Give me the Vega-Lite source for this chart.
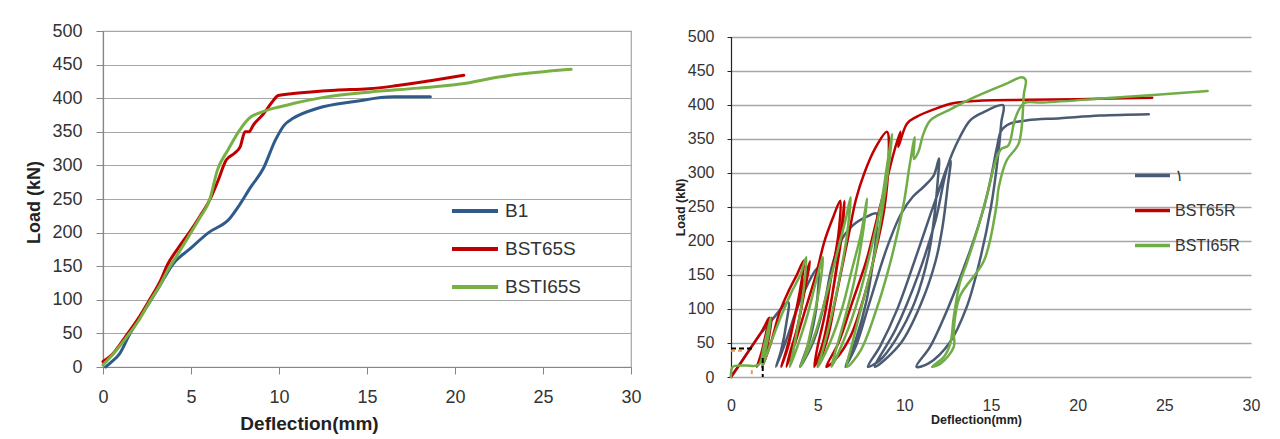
{
"$schema": "https://vega.github.io/schema/vega-lite/v6.json",
"autosize": {"type": "none"},
"padding": {"left": 103, "top": 31, "right": 1177, "bottom": 408},
"background": "white",
"bounds": "flush",
"spacing": 100,
"config": {"view": {"stroke": null}, "font": "Liberation Sans"},
"resolve": {"scale": {"color": "independent"}, "legend": {"color": "independent"}},
"datasets": {
"left": [
{"s":"B1","i":1,"x":0.15,"y":0},{"s":"B1","i":2,"x":0.5,"y":8},{"s":"B1","i":3,"x":0.95,"y":20},{"s":"B1","i":4,"x":1.5,"y":48},{"s":"B1","i":5,"x":2.0,"y":70},{"s":"B1","i":6,"x":2.5,"y":90},{"s":"B1","i":7,"x":3.2,"y":120},{"s":"B1","i":8,"x":4.0,"y":154},{"s":"B1","i":9,"x":4.9,"y":175},{"s":"B1","i":10,"x":6.0,"y":200},{"s":"B1","i":11,"x":7.2,"y":221},{"s":"B1","i":12,"x":7.7,"y":239},{"s":"B1","i":13,"x":8.4,"y":268},{"s":"B1","i":14,"x":9.1,"y":295},{"s":"B1","i":15,"x":9.8,"y":338},{"s":"B1","i":16,"x":10.3,"y":360},{"s":"B1","i":17,"x":10.8,"y":370},{"s":"B1","i":18,"x":12.2,"y":385},{"s":"B1","i":19,"x":14.3,"y":395},{"s":"B1","i":20,"x":16.5,"y":402},{"s":"B1","i":21,"x":18.6,"y":402},
{"s":"BST65S","i":1,"x":0,"y":8},{"s":"BST65S","i":2,"x":0.5,"y":18},{"s":"BST65S","i":3,"x":1.3,"y":46},{"s":"BST65S","i":4,"x":2.0,"y":72},{"s":"BST65S","i":5,"x":2.6,"y":98},{"s":"BST65S","i":6,"x":3.2,"y":125},{"s":"BST65S","i":7,"x":3.7,"y":154},{"s":"BST65S","i":8,"x":4.3,"y":178},{"s":"BST65S","i":9,"x":4.9,"y":200},{"s":"BST65S","i":10,"x":5.5,"y":224},{"s":"BST65S","i":11,"x":6.05,"y":248},{"s":"BST65S","i":12,"x":6.5,"y":275},{"s":"BST65S","i":13,"x":7.0,"y":308},{"s":"BST65S","i":14,"x":7.47,"y":318},{"s":"BST65S","i":15,"x":7.8,"y":328},{"s":"BST65S","i":16,"x":8.07,"y":350},{"s":"BST65S","i":17,"x":8.3,"y":350},{"s":"BST65S","i":18,"x":8.54,"y":360},{"s":"BST65S","i":19,"x":9.13,"y":377},{"s":"BST65S","i":20,"x":9.6,"y":394},{"s":"BST65S","i":21,"x":9.96,"y":404},{"s":"BST65S","i":22,"x":10.8,"y":407},{"s":"BST65S","i":23,"x":13.2,"y":412},{"s":"BST65S","i":24,"x":15.1,"y":414},{"s":"BST65S","i":25,"x":16.5,"y":418},{"s":"BST65S","i":26,"x":18.6,"y":426},{"s":"BST65S","i":27,"x":20.5,"y":434},
{"s":"BSTI65S","i":1,"x":0,"y":3},{"s":"BSTI65S","i":2,"x":0.6,"y":20},{"s":"BSTI65S","i":3,"x":1.3,"y":43},{"s":"BSTI65S","i":4,"x":2.0,"y":68},{"s":"BSTI65S","i":5,"x":2.6,"y":95},{"s":"BSTI65S","i":6,"x":3.2,"y":120},{"s":"BSTI65S","i":7,"x":3.7,"y":145},{"s":"BSTI65S","i":8,"x":4.3,"y":170},{"s":"BSTI65S","i":9,"x":4.86,"y":194},{"s":"BSTI65S","i":10,"x":5.5,"y":222},{"s":"BSTI65S","i":11,"x":6.05,"y":248},{"s":"BSTI65S","i":12,"x":6.5,"y":293},{"s":"BSTI65S","i":13,"x":7.1,"y":323},{"s":"BSTI65S","i":14,"x":7.7,"y":350},{"s":"BSTI65S","i":15,"x":8.3,"y":370},{"s":"BSTI65S","i":16,"x":9.1,"y":380},{"s":"BSTI65S","i":17,"x":10.0,"y":387},{"s":"BSTI65S","i":18,"x":10.8,"y":392},{"s":"BSTI65S","i":19,"x":12.7,"y":402},{"s":"BSTI65S","i":20,"x":15.1,"y":409},{"s":"BSTI65S","i":21,"x":17.9,"y":415},{"s":"BSTI65S","i":22,"x":20.3,"y":421},{"s":"BSTI65S","i":23,"x":22.6,"y":432},{"s":"BSTI65S","i":24,"x":26.6,"y":443}
],
"right": [
{"s":"١","i":1,"x":0,"y":0},{"s":"١","i":2,"x":0.8,"y":30},{"s":"١","i":3,"x":1.6,"y":60},{"s":"١","i":4,"x":2.4,"y":85},{"s":"١","i":5,"x":3.3,"y":110},{"s":"١","i":6,"x":3.2,"y":80},{"s":"١","i":7,"x":2.9,"y":40},{"s":"١","i":8,"x":2.6,"y":15},{"s":"١","i":9,"x":3.2,"y":55},{"s":"١","i":10,"x":3.8,"y":100},{"s":"١","i":11,"x":4.4,"y":135},{"s":"١","i":12,"x":5.0,"y":160},{"s":"١","i":13,"x":5.0,"y":120},{"s":"١","i":14,"x":4.6,"y":60},{"s":"١","i":15,"x":4.0,"y":15},{"s":"١","i":16,"x":4.8,"y":55},{"s":"١","i":17,"x":5.4,"y":110},{"s":"١","i":18,"x":5.8,"y":160},{"s":"١","i":19,"x":6.3,"y":198},{"s":"١","i":20,"x":7.0,"y":222},{"s":"١","i":21,"x":7.8,"y":235},{"s":"١","i":22,"x":8.4,"y":240},{"s":"١","i":23,"x":8.4,"y":215},{"s":"١","i":24,"x":8.2,"y":170},{"s":"١","i":25,"x":7.8,"y":110},{"s":"١","i":26,"x":7.2,"y":55},{"s":"١","i":27,"x":6.6,"y":15},{"s":"١","i":28,"x":7.2,"y":45},{"s":"١","i":29,"x":8.0,"y":110},{"s":"١","i":30,"x":9.0,"y":190},{"s":"١","i":31,"x":9.8,"y":239},{"s":"١","i":32,"x":10.5,"y":265},{"s":"١","i":33,"x":11.1,"y":279},{"s":"١","i":34,"x":11.7,"y":296},{"s":"١","i":35,"x":12.0,"y":321},{"s":"١","i":36,"x":11.9,"y":280},{"s":"١","i":37,"x":11.7,"y":230},{"s":"١","i":38,"x":11.4,"y":180},{"s":"١","i":39,"x":10.6,"y":110},{"s":"١","i":40,"x":9.5,"y":55},{"s":"١","i":41,"x":8.6,"y":25},{"s":"١","i":42,"x":7.9,"y":15},{"s":"١","i":43,"x":8.6,"y":45},{"s":"١","i":44,"x":9.6,"y":100},{"s":"١","i":45,"x":10.8,"y":186},{"s":"١","i":46,"x":11.8,"y":260},{"s":"١","i":47,"x":12.66,"y":318},{"s":"١","i":48,"x":12.5,"y":280},{"s":"١","i":49,"x":12.2,"y":220},{"s":"١","i":50,"x":11.8,"y":170},{"s":"١","i":51,"x":11.0,"y":110},{"s":"١","i":52,"x":9.8,"y":50},{"s":"١","i":53,"x":8.3,"y":15},{"s":"١","i":54,"x":9.5,"y":70},{"s":"١","i":55,"x":10.8,"y":150},{"s":"١","i":56,"x":11.8,"y":230},{"s":"١","i":57,"x":12.5,"y":310},{"s":"١","i":58,"x":13.2,"y":352},{"s":"١","i":59,"x":13.8,"y":377},{"s":"١","i":60,"x":14.5,"y":388},{"s":"١","i":61,"x":15.7,"y":399},{"s":"١","i":62,"x":15.6,"y":375},{"s":"١","i":63,"x":15.4,"y":323},{"s":"١","i":64,"x":15.0,"y":250},{"s":"١","i":65,"x":14.4,"y":176},{"s":"١","i":66,"x":13.6,"y":103},{"s":"١","i":67,"x":12.6,"y":50},{"s":"١","i":68,"x":11.4,"y":20},{"s":"١","i":69,"x":10.7,"y":15},{"s":"١","i":70,"x":11.5,"y":45},{"s":"١","i":71,"x":12.5,"y":100},{"s":"١","i":72,"x":13.8,"y":186},{"s":"١","i":73,"x":14.6,"y":250},{"s":"١","i":74,"x":15.0,"y":293},{"s":"١","i":75,"x":15.35,"y":338},{"s":"١","i":76,"x":15.6,"y":362},{"s":"١","i":77,"x":16.1,"y":372},{"s":"١","i":78,"x":17.1,"y":377},{"s":"١","i":79,"x":19,"y":380},{"s":"١","i":80,"x":21.3,"y":384},{"s":"١","i":81,"x":24.1,"y":386},
{"s":"BST65R","i":1,"x":0,"y":0},{"s":"BST65R","i":2,"x":0.6,"y":22},{"s":"BST65R","i":3,"x":1.2,"y":45},{"s":"BST65R","i":4,"x":1.8,"y":68},{"s":"BST65R","i":5,"x":2.2,"y":87},{"s":"BST65R","i":6,"x":2.0,"y":62},{"s":"BST65R","i":7,"x":1.75,"y":35},{"s":"BST65R","i":8,"x":1.5,"y":15},{"s":"BST65R","i":9,"x":1.85,"y":40},{"s":"BST65R","i":10,"x":2.1,"y":65},{"s":"BST65R","i":11,"x":2.35,"y":87},{"s":"BST65R","i":12,"x":2.2,"y":60},{"s":"BST65R","i":13,"x":2.0,"y":35},{"s":"BST65R","i":14,"x":1.8,"y":15},{"s":"BST65R","i":15,"x":2.3,"y":50},{"s":"BST65R","i":16,"x":2.8,"y":95},{"s":"BST65R","i":17,"x":3.3,"y":125},{"s":"BST65R","i":18,"x":3.8,"y":150},{"s":"BST65R","i":19,"x":4.2,"y":171},{"s":"BST65R","i":20,"x":4.0,"y":130},{"s":"BST65R","i":21,"x":3.6,"y":80},{"s":"BST65R","i":22,"x":3.2,"y":40},{"s":"BST65R","i":23,"x":2.9,"y":15},{"s":"BST65R","i":24,"x":3.3,"y":45},{"s":"BST65R","i":25,"x":3.7,"y":90},{"s":"BST65R","i":26,"x":4.1,"y":130},{"s":"BST65R","i":27,"x":4.55,"y":170},{"s":"BST65R","i":28,"x":4.2,"y":120},{"s":"BST65R","i":29,"x":3.8,"y":70},{"s":"BST65R","i":30,"x":3.4,"y":35},{"s":"BST65R","i":31,"x":3.2,"y":15},{"s":"BST65R","i":32,"x":3.7,"y":50},{"s":"BST65R","i":33,"x":4.3,"y":100},{"s":"BST65R","i":34,"x":4.9,"y":150},{"s":"BST65R","i":35,"x":5.4,"y":200},{"s":"BST65R","i":36,"x":5.9,"y":235},{"s":"BST65R","i":37,"x":6.3,"y":259},{"s":"BST65R","i":38,"x":6.2,"y":210},{"s":"BST65R","i":39,"x":5.8,"y":150},{"s":"BST65R","i":40,"x":5.4,"y":90},{"s":"BST65R","i":41,"x":5.0,"y":45},{"s":"BST65R","i":42,"x":4.8,"y":15},{"s":"BST65R","i":43,"x":5.3,"y":50},{"s":"BST65R","i":44,"x":5.7,"y":100},{"s":"BST65R","i":45,"x":6.1,"y":160},{"s":"BST65R","i":46,"x":6.4,"y":210},{"s":"BST65R","i":47,"x":6.55,"y":258},{"s":"BST65R","i":48,"x":6.3,"y":200},{"s":"BST65R","i":49,"x":5.9,"y":130},{"s":"BST65R","i":50,"x":5.5,"y":70},{"s":"BST65R","i":51,"x":5.1,"y":30},{"s":"BST65R","i":52,"x":5.0,"y":15},{"s":"BST65R","i":53,"x":5.6,"y":60},{"s":"BST65R","i":54,"x":6.0,"y":110},{"s":"BST65R","i":55,"x":6.4,"y":160},{"s":"BST65R","i":56,"x":6.8,"y":210},{"s":"BST65R","i":57,"x":7.2,"y":260},{"s":"BST65R","i":58,"x":7.7,"y":300},{"s":"BST65R","i":59,"x":8.3,"y":335},{"s":"BST65R","i":60,"x":9.0,"y":360},{"s":"BST65R","i":61,"x":9.1,"y":320},{"s":"BST65R","i":62,"x":9.0,"y":280},{"s":"BST65R","i":63,"x":8.8,"y":240},{"s":"BST65R","i":64,"x":8.3,"y":180},{"s":"BST65R","i":65,"x":7.7,"y":120},{"s":"BST65R","i":66,"x":6.9,"y":60},{"s":"BST65R","i":67,"x":6.0,"y":25},{"s":"BST65R","i":68,"x":5.5,"y":15},{"s":"BST65R","i":69,"x":6.2,"y":50},{"s":"BST65R","i":70,"x":7.0,"y":110},{"s":"BST65R","i":71,"x":7.8,"y":170},{"s":"BST65R","i":72,"x":8.4,"y":230},{"s":"BST65R","i":73,"x":9.0,"y":290},{"s":"BST65R","i":74,"x":9.4,"y":330},{"s":"BST65R","i":75,"x":9.77,"y":360},{"s":"BST65R","i":76,"x":9.65,"y":338},{"s":"BST65R","i":77,"x":10.15,"y":372},{"s":"BST65R","i":78,"x":10.7,"y":382},{"s":"BST65R","i":79,"x":11.7,"y":393},{"s":"BST65R","i":80,"x":12.8,"y":402},{"s":"BST65R","i":81,"x":14.5,"y":406},{"s":"BST65R","i":82,"x":17,"y":407},{"s":"BST65R","i":83,"x":20,"y":408},{"s":"BST65R","i":84,"x":24.3,"y":410},
{"s":"BSTI65R","i":1,"x":0,"y":0},{"s":"BSTI65R","i":2,"x":0.1,"y":15},{"s":"BSTI65R","i":3,"x":0.8,"y":17},{"s":"BSTI65R","i":4,"x":1.6,"y":18},{"s":"BSTI65R","i":5,"x":1.9,"y":45},{"s":"BSTI65R","i":6,"x":2.3,"y":87},{"s":"BSTI65R","i":7,"x":2.15,"y":60},{"s":"BSTI65R","i":8,"x":1.95,"y":35},{"s":"BSTI65R","i":9,"x":1.8,"y":15},{"s":"BSTI65R","i":10,"x":2.3,"y":50},{"s":"BSTI65R","i":11,"x":2.9,"y":90},{"s":"BSTI65R","i":12,"x":3.5,"y":125},{"s":"BSTI65R","i":13,"x":4.0,"y":150},{"s":"BSTI65R","i":14,"x":4.34,"y":176},{"s":"BSTI65R","i":15,"x":4.2,"y":130},{"s":"BSTI65R","i":16,"x":3.9,"y":80},{"s":"BSTI65R","i":17,"x":3.6,"y":40},{"s":"BSTI65R","i":18,"x":3.4,"y":15},{"s":"BSTI65R","i":19,"x":3.9,"y":50},{"s":"BSTI65R","i":20,"x":4.4,"y":90},{"s":"BSTI65R","i":21,"x":4.9,"y":140},{"s":"BSTI65R","i":22,"x":5.3,"y":176},{"s":"BSTI65R","i":23,"x":5.1,"y":130},{"s":"BSTI65R","i":24,"x":4.7,"y":80},{"s":"BSTI65R","i":25,"x":4.3,"y":35},{"s":"BSTI65R","i":26,"x":4.0,"y":15},{"s":"BSTI65R","i":27,"x":4.8,"y":60},{"s":"BSTI65R","i":28,"x":5.5,"y":120},{"s":"BSTI65R","i":29,"x":6.2,"y":190},{"s":"BSTI65R","i":30,"x":6.6,"y":230},{"s":"BSTI65R","i":31,"x":6.9,"y":264},{"s":"BSTI65R","i":32,"x":6.7,"y":210},{"s":"BSTI65R","i":33,"x":6.3,"y":150},{"s":"BSTI65R","i":34,"x":5.8,"y":90},{"s":"BSTI65R","i":35,"x":5.3,"y":40},{"s":"BSTI65R","i":36,"x":5.0,"y":15},{"s":"BSTI65R","i":37,"x":5.7,"y":50},{"s":"BSTI65R","i":38,"x":6.4,"y":100},{"s":"BSTI65R","i":39,"x":7.0,"y":160},{"s":"BSTI65R","i":40,"x":7.5,"y":210},{"s":"BSTI65R","i":41,"x":7.85,"y":262},{"s":"BSTI65R","i":42,"x":7.6,"y":210},{"s":"BSTI65R","i":43,"x":7.1,"y":140},{"s":"BSTI65R","i":44,"x":6.5,"y":80},{"s":"BSTI65R","i":45,"x":6.0,"y":35},{"s":"BSTI65R","i":46,"x":5.8,"y":15},{"s":"BSTI65R","i":47,"x":6.6,"y":60},{"s":"BSTI65R","i":48,"x":7.4,"y":120},{"s":"BSTI65R","i":49,"x":8.1,"y":190},{"s":"BSTI65R","i":50,"x":8.7,"y":260},{"s":"BSTI65R","i":51,"x":9.0,"y":310},{"s":"BSTI65R","i":52,"x":9.3,"y":357},{"s":"BSTI65R","i":53,"x":9.1,"y":310},{"s":"BSTI65R","i":54,"x":8.7,"y":240},{"s":"BSTI65R","i":55,"x":8.2,"y":170},{"s":"BSTI65R","i":56,"x":7.5,"y":100},{"s":"BSTI65R","i":57,"x":7.0,"y":50},{"s":"BSTI65R","i":58,"x":6.7,"y":15},{"s":"BSTI65R","i":59,"x":7.5,"y":40},{"s":"BSTI65R","i":60,"x":8.4,"y":100},{"s":"BSTI65R","i":61,"x":9.0,"y":150},{"s":"BSTI65R","i":62,"x":9.5,"y":200},{"s":"BSTI65R","i":63,"x":10.0,"y":260},{"s":"BSTI65R","i":64,"x":10.3,"y":310},{"s":"BSTI65R","i":65,"x":10.6,"y":352},{"s":"BSTI65R","i":66,"x":10.55,"y":320},{"s":"BSTI65R","i":67,"x":10.8,"y":330},{"s":"BSTI65R","i":68,"x":11.1,"y":357},{"s":"BSTI65R","i":69,"x":11.5,"y":377},{"s":"BSTI65R","i":70,"x":12.5,"y":391},{"s":"BSTI65R","i":71,"x":14.05,"y":411},{"s":"BSTI65R","i":72,"x":16.0,"y":432},{"s":"BSTI65R","i":73,"x":16.76,"y":440},{"s":"BSTI65R","i":74,"x":17.0,"y":436},{"s":"BSTI65R","i":75,"x":16.9,"y":416},{"s":"BSTI65R","i":76,"x":16.6,"y":343},{"s":"BSTI65R","i":77,"x":15.9,"y":318},{"s":"BSTI65R","i":78,"x":15.45,"y":279},{"s":"BSTI65R","i":79,"x":15.3,"y":249},{"s":"BSTI65R","i":80,"x":14.6,"y":171},{"s":"BSTI65R","i":81,"x":13.2,"y":118},{"s":"BSTI65R","i":82,"x":12.85,"y":69},{"s":"BSTI65R","i":83,"x":12.85,"y":44},{"s":"BSTI65R","i":84,"x":12.1,"y":20},{"s":"BSTI65R","i":85,"x":11.6,"y":15},{"s":"BSTI65R","i":86,"x":12.3,"y":30},{"s":"BSTI65R","i":87,"x":12.66,"y":50},{"s":"BSTI65R","i":88,"x":12.85,"y":88},{"s":"BSTI65R","i":89,"x":13.2,"y":138},{"s":"BSTI65R","i":90,"x":13.6,"y":167},{"s":"BSTI65R","i":91,"x":14.2,"y":215},{"s":"BSTI65R","i":92,"x":14.8,"y":270},{"s":"BSTI65R","i":93,"x":15.3,"y":320},{"s":"BSTI65R","i":94,"x":15.6,"y":335},{"s":"BSTI65R","i":95,"x":16.0,"y":340},{"s":"BSTI65R","i":96,"x":16.4,"y":380},{"s":"BSTI65R","i":97,"x":16.9,"y":402},{"s":"BSTI65R","i":98,"x":18,"y":403},{"s":"BSTI65R","i":99,"x":22,"y":410},{"s":"BSTI65R","i":100,"x":27.5,"y":420}
],
"dash": [
{"k":"bh","x":0,"y":42},{"k":"bh","x":1.39,"y":42},{"k":"bv","x":1.83,"y":28},{"k":"bv","x":1.83,"y":0},
{"k":"oh","x":0,"y":38.6},{"k":"oh","x":0.8,"y":38.6},{"k":"ov","x":1.2,"y":10},{"k":"ov","x":1.2,"y":0}
]
},
"hconcat": [
{
"width": 528, "height": 336,
"view": {"stroke": "#A6A6A6", "strokeWidth": 1.2},
"data": {"name": "left"},
"mark": {"type": "line", "strokeWidth": 3, "strokeJoin": "round", "strokeCap": "round", "interpolate": "monotone"},
"encoding": {
"x": {"field": "x", "type": "quantitative", "scale": {"domain": [0, 30], "nice": false, "zero": false},
"axis": {"values": [0,5,10,15,20,25,30], "grid": false, "domainColor": "#868686", "domainWidth": 1.2, "tickColor": "#868686", "tickSize": 7, "labelFontSize": 18, "labelColor": "#333333", "labelPadding": 23, "labelBaseline": "middle", "labelFlush": false,
"title": "Deflection(mm)", "titleFontSize": 19, "titleFontWeight": "bold", "titleColor": "#222222", "titleX": 206, "titleY": 56, "titleBaseline": "middle", "titleAlign": "center"}},
"y": {"field": "y", "type": "quantitative", "scale": {"domain": [0, 500], "nice": false},
"axis": {"values": [0,50,100,150,200,250,300,350,400,450,500], "grid": true, "gridColor": "#A6A6A6", "gridWidth": 1.2, "domainColor": "#868686", "domainWidth": 1.2, "tickColor": "#868686", "tickSize": 7, "labelFontSize": 18, "labelColor": "#333333", "labelPadding": 14, "labelFlush": false, "labelOverlap": false,
"title": "Load (kN)", "titleFontSize": 18, "titleFontWeight": "bold", "titleColor": "#222222", "titleX": -69, "titleY": 171, "titleAngle": -90, "titleBaseline": "middle", "titleAlign": "center"}},
"color": {"field": "s", "type": "nominal", "scale": {"domain": ["B1", "BST65S", "BSTI65S"], "range": ["#2F5B8A", "#C00000", "#77B043"]},
"legend": {"orient": "none", "legendX": 347, "legendY": 155, "title": null, "symbolType": "stroke", "symbolSize": 2116, "symbolStrokeWidth": 4, "labelFontSize": 19, "labelColor": "#333333", "rowPadding": 3, "labelOffset": 5}},
"order": {"field": "i", "type": "quantitative"}
}
},
{
"width": 520, "height": 346,
"encoding": {
"x": {"field": "x", "type": "quantitative", "scale": {"domain": [0, 30], "nice": false, "zero": false},
"axis": {"values": [0,5,10,15,20,25,30], "grid": false, "domain": false, "ticks": false, "tickSize": 0, "labelFontSize": 16, "labelColor": "#333333", "labelPadding": 28, "labelBaseline": "middle", "labelFlush": false,
"title": "Deflection(mm)", "titleFontSize": 12.5, "titleFontWeight": "bold", "titleColor": "#222222", "titleX": 245, "titleY": 42, "titleBaseline": "middle", "titleAlign": "center"}},
"y": {"field": "y", "type": "quantitative", "scale": {"domain": [0, 500], "nice": false, "range": [346, 5.5]},
"axis": {"values": [0,50,100,150,200,250,300,350,400,450,500], "grid": true, "gridColor": "#A6A6A6", "gridWidth": 1.5, "domainColor": "#222222", "domainWidth": 1.2, "tickColor": "#222222", "tickSize": 4, "labelFontSize": 16, "labelColor": "#333333", "labelPadding": 13, "labelFlush": false, "labelOverlap": false,
"title": "Load (kN)", "titleFontSize": 12.5, "titleFontWeight": "bold", "titleColor": "#222222", "titleX": -51, "titleY": 176, "titleAngle": -90, "titleBaseline": "middle", "titleAlign": "center"}}
},
"layer": [
{
"data": {"name": "right"},
"mark": {"type": "line", "strokeWidth": 2.5, "strokeJoin": "round", "strokeCap": "round", "interpolate": "catmull-rom"},
"encoding": {
"color": {"field": "s", "type": "nominal", "scale": {"domain": ["١", "BST65R", "BSTI65R"], "range": ["#4B5B73", "#C00000", "#70AD47"]},
"legend": {"orient": "none", "legendX": 402, "legendY": 125, "title": null, "symbolType": "stroke", "symbolSize": 1225, "symbolStrokeWidth": 3.5, "labelFontSize": 16, "labelColor": "#333333", "rowPadding": 7, "labelOffset": 3}},
"order": {"field": "i", "type": "quantitative"}
}
},
{
"data": {"name": "dash"},
"transform": [{"filter": "datum.k == 'bh' || datum.k == 'bv'"}],
"mark": {"type": "line", "color": "#000000", "strokeWidth": 2, "strokeDash": [5, 3]},
"encoding": {"detail": {"field": "k", "type": "nominal"}}
},
{
"data": {"name": "dash"},
"transform": [{"filter": "datum.k == 'oh' || datum.k == 'ov'"}],
"mark": {"type": "line", "color": "#F79646", "strokeWidth": 2, "strokeDash": [4, 3]},
"encoding": {"detail": {"field": "k", "type": "nominal"}}
}
]
}
]
}
